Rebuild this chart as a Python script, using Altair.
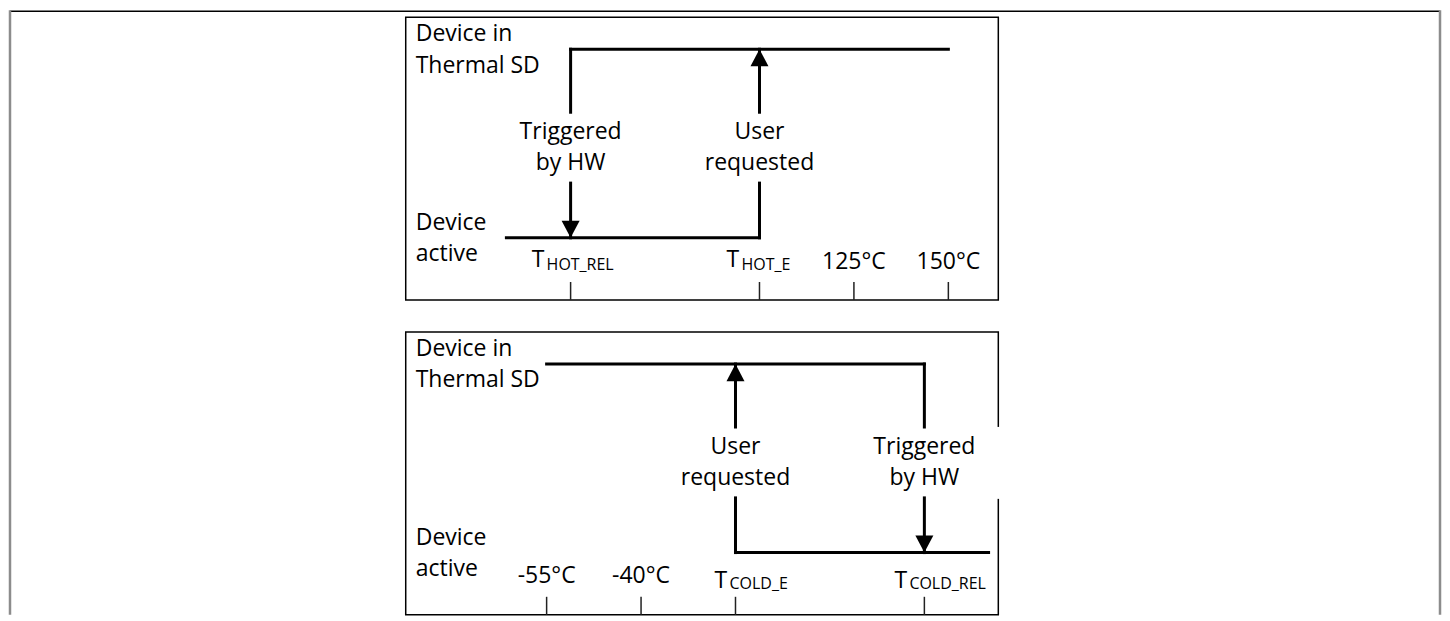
import altair as alt
import pandas as pd

FONT = "Open Sans"

# ---------------- data ----------------
# positions along the temperature axis, in equal steps
hot_tick_pos = [0, 2, 3, 4]
hot_tick_main = ["T", "T", "125°C", "150°C"]
hot_tick_sub = ["HOT_REL", "HOT_E", "", ""]

cold_tick_pos = [0, 1, 2, 4]
cold_tick_main = ["-55°C", "-40°C", "T", "T"]
cold_tick_sub = ["", "", "COLD_E", "COLD_REL"]

# state levels: 1 = Device in Thermal SD, 0 = Device active
state_levels = [1, 0]
state_names = ["Device in\nThermal SD", "Device\nactive"]

hot_seg_level = [0, 1]
hot_seg_from = [-0.68, 0]
hot_seg_to = [2, 4]

cold_seg_level = [1, 0]
cold_seg_from = [0, 2]
cold_seg_to = [4, 4.68]

hot_tr_pos = [0, 2]
hot_tr_dir = ["down", "up"]
hot_tr_text = ["Triggered\nby HW", "User\nrequested"]

cold_tr_pos = [2, 4]
cold_tr_dir = ["up", "down"]
cold_tr_text = ["User\nrequested", "Triggered\nby HW"]

# ---------------- style ----------------
W, H = 593, 283
Y_DOMAIN = [-0.33, 1.17]
HOT_X_DOMAIN = [-1.746, 4.529]
COLD_X_DOMAIN = [-1.492, 4.783]
GAP_HI, GAP_LO, TEXT_Y = 0.666, 0.29, 0.522
DOWN_HEAD = "M-1,-1.9L1,-1.9L0,0Z"
UP_HEAD = "M-1,1.9L1,1.9L0,0Z"
FS, FS_SUB = 23, 16
# subscript label styling: dx of "T", baseline px of T, baseline px of subscript
hot_sub_style = {"HOT_REL": (-39, 250, 252.5), "HOT_E": (-33, 250, 252.5)}
cold_sub_style = {"COLD_E": (-21, 256, 257), "COLD_REL": (-30, 256, 257)}
PLAIN_LABEL_Y = 251.5


def panel(tick_pos, tick_main, tick_sub, sub_style, seg_level, seg_from, seg_to,
          tr_pos, tr_dir, tr_text, x_domain, frame=False, border_gap=False):
    xs = alt.Scale(domain=x_domain, nice=False, zero=False)
    ys = alt.Scale(domain=Y_DOMAIN, nice=False, zero=False)

    def X(f):
        return alt.X(f"{f}:Q", scale=xs, axis=None)

    def Y(f):
        return alt.Y(f"{f}:Q", scale=ys, axis=None)

    layers = []

    seg_df = pd.DataFrame({"level": seg_level, "x0": seg_from, "x1": seg_to})
    layers.append(alt.Chart(seg_df).mark_rule(strokeWidth=3, color="black", strokeCap="square")
                  .encode(x=X("x0"), x2="x1", y=Y("level")))

    shaft_rows = []
    for p in tr_pos:
        shaft_rows.append({"pos": p, "y0": 1, "y1": GAP_HI})
        shaft_rows.append({"pos": p, "y0": GAP_LO, "y1": 0})
    shaft_df = pd.DataFrame(shaft_rows)
    layers.append(alt.Chart(shaft_df).mark_rule(strokeWidth=3, color="black", strokeCap="square")
                  .encode(x=X("pos"), y=Y("y0"), y2="y1"))

    head_df = pd.DataFrame({"pos": tr_pos, "dir": tr_dir,
                            "level": [0 if d == "down" else 1 for d in tr_dir]})
    layers.append(alt.Chart(head_df).mark_point(filled=True, opacity=1, strokeWidth=0, size=324, color="black")
                  .encode(x=X("pos"), y=Y("level"),
                          shape=alt.Shape("dir:N", scale=alt.Scale(domain=["down", "up"], range=[DOWN_HEAD, UP_HEAD]),
                                          legend=None)))

    tr_df = pd.DataFrame({"pos": tr_pos, "text": tr_text, "ty": [TEXT_Y] * len(tr_pos)})
    layers.append(alt.Chart(tr_df).mark_text(font=FONT, fontSize=FS, lineBreak="\n", lineHeight=31,
                                             align="center", baseline="alphabetic", color="black")
                  .encode(x=X("pos"), y=Y("ty"), text="text:N"))

    st_df = pd.DataFrame({"level": state_levels, "text": state_names})
    layers.append(alt.Chart(st_df).mark_text(font=FONT, fontSize=FS, lineBreak="\n", lineHeight=31.4,
                                             align="left", baseline="alphabetic", dy=-8, color="black")
                  .encode(x=alt.value(10), y=Y("level"), text="text:N"))

    tick_df = pd.DataFrame({"pos": tick_pos, "main": tick_main, "sub": tick_sub})
    layers.append(alt.Chart(tick_df).mark_rule(strokeWidth=1.5, color="#222")
                  .encode(x=X("pos"), y=alt.value(265), y2=alt.value(H)))

    plain = tick_df[tick_df["sub"] == ""]
    layers.append(alt.Chart(plain).mark_text(font=FONT, fontSize=FS, align="center", baseline="alphabetic",
                                             color="black")
                  .encode(x=X("pos"), y=alt.value(PLAIN_LABEL_Y), text="main:N"))

    for _, row in tick_df[tick_df["sub"] != ""].iterrows():
        dx, yb, ysb = sub_style[row["sub"]]
        one = pd.DataFrame({"pos": [row["pos"]], "main": [row["main"]], "sub": [row["sub"]]})
        layers.append(alt.Chart(one).mark_text(font=FONT, fontSize=FS, align="left", baseline="alphabetic",
                                               dx=dx, color="black")
                      .encode(x=X("pos"), y=alt.value(yb), text="main:N"))
        layers.append(alt.Chart(one).mark_text(font=FONT, fontSize=FS_SUB, align="left", baseline="alphabetic",
                                               dx=dx + 15, color="black")
                      .encode(x=X("pos"), y=alt.value(ysb), text="sub:N"))

    if border_gap:
        layers.append(alt.Chart(pd.DataFrame({"a": [0]})).mark_rule(color="white", strokeWidth=5)
                      .encode(x=alt.value(W), y=alt.value(95), y2=alt.value(167)))

    if frame:
        fdf = pd.DataFrame({"a": [0]})
        layers.append(alt.Chart(fdf).mark_rule(color="black", strokeWidth=1.5)
                      .encode(x=alt.value(-396), x2=alt.value(1035), y=alt.value(-6)))
        layers.append(alt.Chart(fdf).mark_rule(color="#8c8c8c", strokeWidth=2.5)
                      .encode(x=alt.value(-396), y=alt.value(-7), y2=alt.value(598)))
        layers.append(alt.Chart(fdf).mark_rule(color="#8c8c8c", strokeWidth=2.5)
                      .encode(x=alt.value(1035), y=alt.value(-7), y2=alt.value(598)))

    return alt.layer(*layers).properties(width=W, height=H)


top = panel(hot_tick_pos, hot_tick_main, hot_tick_sub, hot_sub_style, hot_seg_level, hot_seg_from, hot_seg_to,
            hot_tr_pos, hot_tr_dir, hot_tr_text, HOT_X_DOMAIN, frame=True)
bottom = panel(cold_tick_pos, cold_tick_main, cold_tick_sub, cold_sub_style, cold_seg_level, cold_seg_from,
               cold_seg_to, cold_tr_pos, cold_tr_dir, cold_tr_text, COLD_X_DOMAIN, border_gap=True)

chart = (alt.vconcat(top, bottom, spacing=32, bounds="flush", padding=0)
         .configure(background="white")
         .configure_view(stroke="black", strokeWidth=1.5))

chart.save("out.html", embed_options={"renderer": "svg", "actions": False})
